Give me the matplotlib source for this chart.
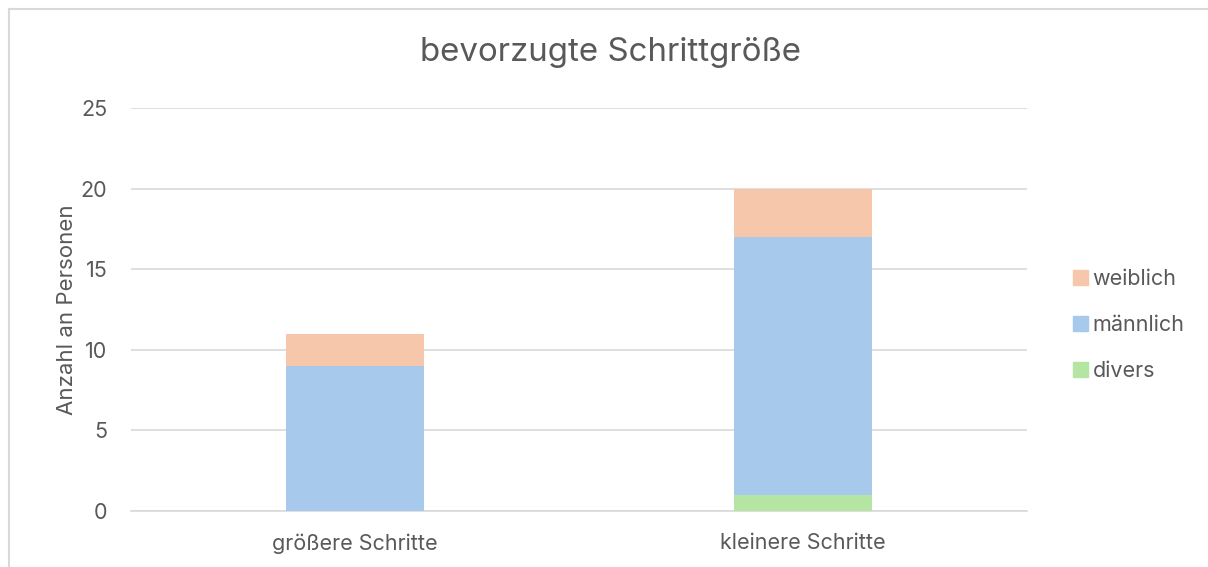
import matplotlib
matplotlib.use("Agg")
import matplotlib.pyplot as plt
from matplotlib.lines import Line2D
from matplotlib.patches import Patch

# data
categories = ["größere Schritte", "kleinere Schritte"]
divers = [0, 1]
maennlich = [9, 16]
weiblich = [2, 3]

text_col = "#595959"
c_divers = "#B4E5A2"
c_maennlich = "#A6C9EC"
c_weiblich = "#F7C7AC"

plt.rcParams['font.family'] = ['Inter', 'DejaVu Sans']

fig = plt.figure(figsize=(12.08, 5.67), dpi=100)
ax = fig.add_axes([131 / 1208, 1 - 511 / 567, 896 / 1208, 403 / 567])

x = range(len(categories))
w = 0.31
ax.bar(x, divers, w, color=c_divers, label="divers", zorder=3)
ax.bar(x, maennlich, w, bottom=divers, color=c_maennlich, label="männlich", zorder=3)
bottom2 = [a + b for a, b in zip(divers, maennlich)]
ax.bar(x, weiblich, w, bottom=bottom2, color=c_weiblich, label="weiblich", zorder=3)

ax.set_xlim(-0.5, 1.5)
ax.set_ylim(0, 25)
ax.set_yticks([0, 5, 10, 15, 20, 25])
ax.set_xticks(list(x))
ax.set_xticklabels(categories)
ax.yaxis.grid(True, color="#D9D9D9", linewidth=1.2, zorder=0)
for s in ["top", "right", "left"]:
    ax.spines[s].set_visible(False)
ax.spines["bottom"].set_color("#D9D9D9")
ax.spines["bottom"].set_linewidth(1.2)
ax.tick_params(axis="both", length=0, colors=text_col, labelsize=15.5)
ax.tick_params(axis="y", pad=17)
ax.tick_params(axis="x", pad=16)

ax.set_ylabel("Anzahl an Personen", color=text_col, fontsize=16, labelpad=3)
fig.text(611 / 1208, 1 - 53 / 567, "bevorzugte Schrittgröße", ha="center", va="center",
         color=text_col, fontsize=23.8)

handles = [Patch(color=c_weiblich), Patch(color=c_maennlich), Patch(color=c_divers)]
ax.legend(handles, ["weiblich", "männlich", "divers"], loc="center left",
          bbox_to_anchor=(1.03, 0.462), frameon=False, fontsize=15.5,
          handlelength=0.7, handleheight=0.7, handletextpad=0.2,
          labelspacing=1.2, labelcolor=text_col)

# outer chart border (only top and left visible)
fig.add_artist(Line2D([9 / 1208, 1], [1 - 9 / 567, 1 - 9 / 567], color="#D9D9D9", lw=1.5,
                      transform=fig.transFigure))
fig.add_artist(Line2D([9 / 1208, 9 / 1208], [0, 1 - 9 / 567], color="#D9D9D9", lw=1.5,
                      transform=fig.transFigure))

plt.savefig("out.png", dpi=100)
plt.close("all")
